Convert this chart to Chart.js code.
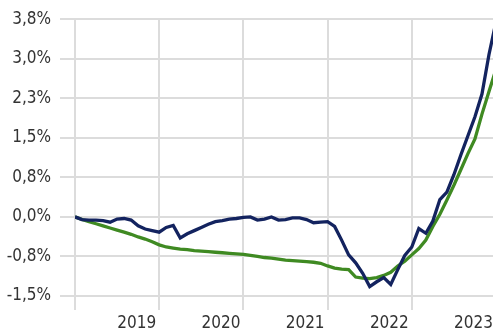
<!DOCTYPE html>
<html>
<head>
<meta charset="utf-8">
<script src="https://cdn.jsdelivr.net/npm/chart.js@4/dist/chart.umd.min.js"></script>
<style>
  html, body { margin: 0; padding: 0; background: #fff; overflow: hidden; }
  #wrap { position: relative; width: 499px; height: 333px; }
</style>
</head>
<body>
<div id="wrap"><canvas id="myChart"></canvas></div>
<script>
// monthly points, index 0 = Jan 2018
const months = [];
for (let i = 0; i <= 60; i++) months.push(i);

const blueSeries = [
  0, -0.05, -0.06, -0.06, -0.07, -0.10, -0.04, -0.03, -0.06, -0.17,
  -0.23, -0.26, -0.29, -0.20, -0.16, -0.40, -0.32, -0.26, -0.20, -0.14,
  -0.09, -0.07, -0.04, -0.03, -0.01, 0.00, -0.06, -0.04, 0.00, -0.06,
  -0.05, -0.02, -0.02, -0.05, -0.11, -0.10, -0.09, -0.18, -0.44, -0.72,
  -0.87, -1.07, -1.32, -1.23, -1.15, -1.28, -1.00, -0.73, -0.57, -0.22,
  -0.31, -0.08, 0.33, 0.47, 0.80, 1.18, 1.54, 1.90, 2.33, 3.08,
  3.70
];

const greenSeries = [
  0, -0.05, -0.09, -0.13, -0.17, -0.21, -0.25, -0.29, -0.33, -0.38,
  -0.42, -0.47, -0.53, -0.57, -0.59, -0.61, -0.62, -0.64, -0.65, -0.66,
  -0.67, -0.68, -0.69, -0.70, -0.71, -0.73, -0.75, -0.77, -0.78, -0.80,
  -0.82, -0.83, -0.84, -0.85, -0.86, -0.88, -0.93, -0.97, -0.99, -1.00,
  -1.14, -1.16, -1.17, -1.15, -1.11, -1.05, -0.93, -0.84, -0.72, -0.60,
  -0.44, -0.18, 0.05, 0.32, 0.60, 0.90, 1.20, 1.48, 1.95, 2.38,
  2.80
];

const xTickLabels = ['', '2019', '2020', '2021', '2022', '2023'];
const yTicks = [-1.5, -0.75, 0, 0.75, 1.5, 2.25, 3.0, 3.75];

const fontFamily = "'Liberation Sans Narrow', 'DejaVu Sans Condensed', sans-serif";
const gridColor = '#dcdcdc';

function pts(values){
  return values.map((v, i) => ({x: months[i], y: v}));
}

const ctx = document.getElementById('myChart');

new Chart(ctx, {
  type: 'line',
  data: {
    datasets: [{
      data: pts(blueSeries),
      borderColor: '#13235f',
      borderWidth: 3.3,
      pointRadius: 0,
      tension: 0,
    }, {
      data: pts(greenSeries),
      borderColor: '#3f8a22',
      borderWidth: 3.3,
      pointRadius: 0,
      tension: 0,
    }]
  },
  options: {
    responsive: true,
    maintainAspectRatio: false,
    animation: false,
    layout: { padding: { top: 18, right: 0, bottom: 0, left: 0 } },
    plugins: {
      legend: { display: false },
      tooltip: { enabled: false }
    },
    scales: {
      x: {
        type: 'linear',
        min: 0,
        max: 60,
        border: { display: false },
        grid: { color: gridColor, lineWidth: 2, tickLength: 14 },
        afterBuildTicks: function(scale){
          scale.ticks = xTickLabels.map((l, i) => ({value: i * 12}));
        },
        afterFit: function(scale){ scale.height = 37; },
        ticks: {
          align: 'end',
          labelOffset: -3,
          padding: 3,
          maxRotation: 0,
          color: '#333',
          font: { family: fontFamily, size: 17 },
          callback: function(v){ return xTickLabels[Math.round(v / 12)]; }
        }
      },
      y: {
        min: -1.5,
        max: 3.75,
        border: { display: false },
        grid: { color: gridColor, lineWidth: 2, tickLength: 15 },
        afterBuildTicks: function(scale){
          scale.ticks = yTicks.map(v => ({value: v}));
        },
        afterFit: function(scale){ scale.width = 75; },
        ticks: {
          padding: 9,
          color: '#333',
          font: { family: fontFamily, size: 17 },
          callback: function(v){ return v.toFixed(1).replace('.', ',') + '%'; }
        }
      }
    }
  }
});
</script>
</body>
</html>
